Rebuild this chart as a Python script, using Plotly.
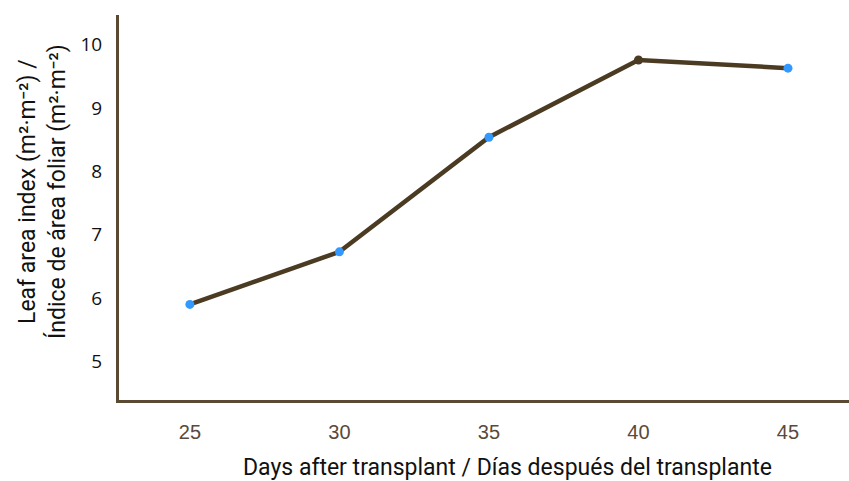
import plotly.graph_objects as go

days = [25, 30, 35, 40, 45]
lai = [5.90, 6.73, 8.54, 9.76, 9.63]
marker_colors = ["#3399ff", "#3399ff", "#3399ff", "#4a3b22", "#3399ff"]
x_ticks = [25, 30, 35, 40, 45]
y_ticks = [5, 6, 7, 8, 9, 10]

TITLE_FONT = "Liberation Sans Narrow, Arial Narrow, Roboto, sans-serif"

fig = go.Figure()
fig.add_trace(go.Scatter(
    x=days, y=lai, mode="lines+markers",
    line=dict(color="#4a3b22", width=4.5),
    marker=dict(color=marker_colors, size=9),
    showlegend=False,
))

fig.update_layout(
    width=849, height=481,
    margin=dict(l=119, r=0, t=15, b=81),
    plot_bgcolor="white", paper_bgcolor="white",
    xaxis=dict(
        range=[22.63, 47.04], tickvals=x_ticks, showgrid=False, zeroline=False,
        showline=True, linecolor="#5a4a32", linewidth=3,
        ticks="outside", ticklen=12, tickcolor="rgba(0,0,0,0)",
        tickfont=dict(family="Liberation Sans, Arial", size=20, color="#5a4a3a"),
    ),
    yaxis=dict(
        range=[4.39, 10.47], tickvals=y_ticks, showgrid=False, zeroline=False,
        showline=True, linecolor="#5a4a32", linewidth=3,
        ticks="outside", ticklen=10, tickcolor="rgba(0,0,0,0)",
        tickfont=dict(family="Open Sans, Noto Sans", size=19, color="#111111"),
    ),
    annotations=[
        dict(text="Days after transplant / Días después del transplante",
             x=507, y=467, xref="paper", yref="paper", showarrow=False,
             font=dict(family=TITLE_FONT, size=23, color="#111111")),
        dict(text="Leaf area index (m²·m⁻²) /<br>Índice de área foliar (m²·m⁻²)",
             x=42, y=192, xref="paper", yref="paper", showarrow=False, textangle=-90,
             font=dict(family=TITLE_FONT, size=23, color="#111111")),
    ],
)
# convert pixel positions to paper coordinates
pw, ph = 849 - 119, 481 - 15 - 81
for a in fig.layout.annotations:
    a.x = (a.x - 119) / pw
    a.y = 1 - (a.y - 15) / ph
    a.xanchor = "center"; a.yanchor = "middle"

fig.write_html("out.html", config={"displayModeBar": False},
               post_script="document.body.style.margin='0px';document.body.style.overflow='hidden';")
